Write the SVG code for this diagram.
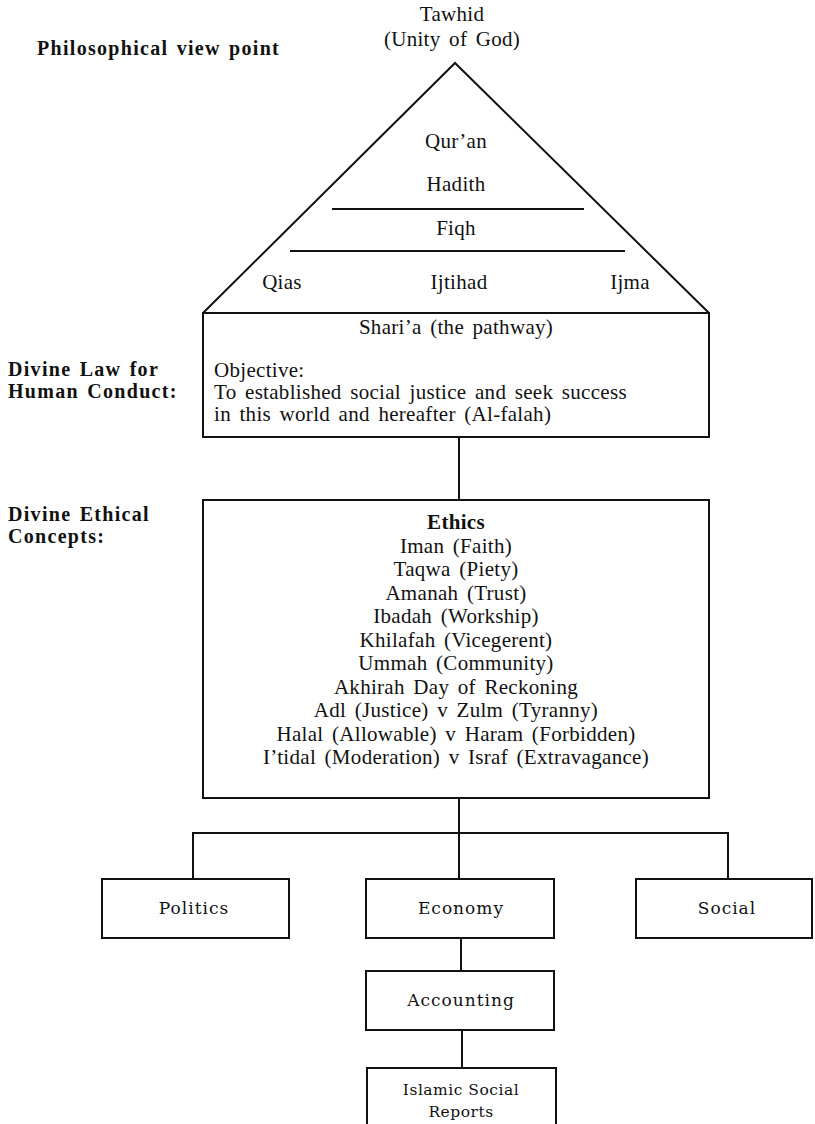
<svg xmlns="http://www.w3.org/2000/svg" width="815" height="1124" viewBox="0 0 815 1124">
<style>
.t{font-family:"Liberation Serif","Times New Roman",serif;font-size:21px;fill:#111;word-spacing:3px;letter-spacing:0.3px}
.c{text-anchor:middle}
.b{font-family:"Liberation Serif","Times New Roman",serif;font-size:20px;font-weight:bold;fill:#111;letter-spacing:1.3px;word-spacing:2px}
.s{font-family:"DejaVu Serif",serif;font-size:17px;fill:#111;text-anchor:middle;letter-spacing:1px}
.r{font-family:"DejaVu Serif",serif;font-size:15.5px;fill:#111;text-anchor:middle;letter-spacing:0.5px}
.ln{stroke:#111;stroke-width:2;fill:none}
.bx{stroke:#111;stroke-width:2;fill:#fff}
</style>
<rect width="815" height="1124" fill="#fff"/>
<g id="labels">
<text class="b" x="37" y="55">Philosophical view point</text>
<text class="b" x="8" y="376">Divine Law for</text>
<text class="b" x="8" y="398">Human Conduct:</text>
<text class="b" x="8" y="521">Divine Ethical</text>
<text class="b" x="8" y="543">Concepts:</text>
</g>
<g id="tawhid">
<text class="t c" x="452" y="21">Tawhid</text>
<text class="t c" x="452" y="46">(Unity of God)</text>
</g>
<g id="connectors">
<line class="ln" x1="459" y1="437" x2="459" y2="500"/>
<line class="ln" x1="459" y1="798" x2="459" y2="879"/>
<polyline class="ln" points="193,879 193,833 728,833 728,879"/>
<line class="ln" x1="461" y1="938" x2="461" y2="971"/>
<line class="ln" x1="462" y1="1030" x2="462" y2="1068"/>
</g>
<g id="pyramid">
<polyline class="ln" points="203,313 455,63 709,313"/>
<line class="ln" x1="332" y1="209" x2="584" y2="209"/>
<line class="ln" x1="290" y1="251" x2="625" y2="251"/>
<text class="t c" x="456" y="148">Qur’an</text>
<text class="t c" x="456" y="191">Hadith</text>
<text class="t c" x="456" y="235">Fiqh</text>
<text class="t c" x="282" y="289">Qias</text>
<text class="t c" x="459" y="289">Ijtihad</text>
<text class="t c" x="630" y="289">Ijma</text>
</g>
<g id="sharia">
<rect class="bx" x="203" y="313" width="506" height="124"/>
<text class="t c" x="456" y="334">Shari’a (the pathway)</text>
<text class="t" x="214" y="377">Objective:</text>
<text class="t" x="214" y="399">To established social justice and seek success</text>
<text class="t" x="214" y="421">in this world and hereafter (Al-falah)</text>
</g>
<g id="ethics">
<rect class="bx" x="203" y="500" width="506" height="298"/>
<text class="t c" x="456" y="529" font-weight="bold">Ethics</text>
<text class="t c" x="456" y="552.5">Iman (Faith)</text>
<text class="t c" x="456" y="576">Taqwa (Piety)</text>
<text class="t c" x="456" y="599.5">Amanah (Trust)</text>
<text class="t c" x="456" y="623">Ibadah (Workship)</text>
<text class="t c" x="456" y="646.5">Khilafah (Vicegerent)</text>
<text class="t c" x="456" y="670">Ummah (Community)</text>
<text class="t c" x="456" y="693.5">Akhirah Day of Reckoning</text>
<text class="t c" x="456" y="717">Adl (Justice) v Zulm (Tyranny)</text>
<text class="t c" x="456" y="740.5">Halal (Allowable) v Haram (Forbidden)</text>
<text class="t c" x="456" y="764">I’tidal (Moderation) v Israf (Extravagance)</text>
</g>
<g id="politics">
<rect class="bx" x="102" y="879" width="187" height="59"/>
<text class="s" x="194" y="914">Politics</text>
</g>
<g id="economy">
<rect class="bx" x="366" y="879" width="188" height="59"/>
<text class="s" x="461" y="914">Economy</text>
</g>
<g id="social">
<rect class="bx" x="636" y="879" width="176" height="59"/>
<text class="s" x="727" y="914">Social</text>
</g>
<g id="accounting">
<rect class="bx" x="366" y="971" width="188" height="59"/>
<text class="s" x="461" y="1006">Accounting</text>
</g>
<g id="reports">
<path class="ln" d="M367,1124 V1068 H556 V1124"/>
<text class="r" x="461" y="1095">Islamic Social</text>
<text class="r" x="461" y="1117">Reports</text>
</g>
</svg>
